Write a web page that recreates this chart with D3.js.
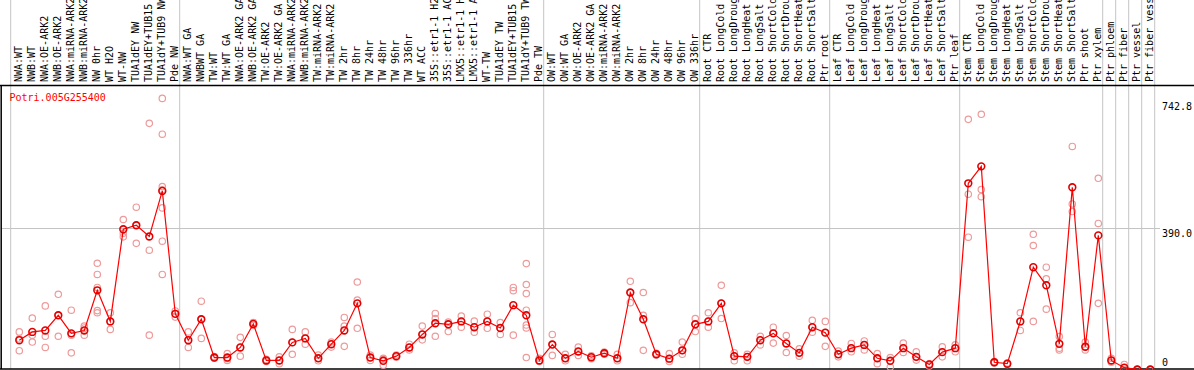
<!DOCTYPE html>
<html>
<head>
<meta charset="utf-8">
<script src="https://cdn.jsdelivr.net/npm/d3@7"></script>
<style>
  html, body { margin: 0; padding: 0; background: #fff; }
  svg { display: block; font-family: "DejaVu Sans Mono", monospace; }
</style>
</head>
<body>
<svg id="chart"></svg>
<script>
// sample labels, left to right
const samples = [
  'NWA:WT', 'NWB:WT', 'NWA:OE-ARK2', 'NWB:OE-ARK2', 'NWA:miRNA-ARK2', 'NWB:miRNA-ARK2',
  'NW 0hr', 'WT H2O', 'WT-NW', 'TUA1dEY NW', 'TUA1dEY+TUB15 NW', 'TUA1dY+TUB9 NW', 'Pde NW',
  'NWA:WT GA', 'NWBWT GA', 'TW:WT', 'TW:WT GA', 'NWA:OE-ARK2 GA', 'NWB:OE-ARK2 GA',
  'TW:OE-ARK2', 'TW:OE-ARK2 GA', 'NWA:miRNA-ARK2', 'NWB:miRNA-ARK2', 'TW:miRNA-ARK2', 'TW:miRNA-ARK2',
  'TW 2hr', 'TW 8hr', 'TW 24hr', 'TW 48hr', 'TW 96hr', 'TW 336hr', 'WT ACC',
  '35S::etr1-1 H2O', '35S::etr1-1 ACC', 'LMX5::etr1-1 H2O', 'LMX5::etr1-1 ACC',
  'WT-TW', 'TUA1dEY TW', 'TUA1dEY+TUB15 TW', 'TUA1dY+TUB9 TW', 'Pde TW',
  'OW:WT', 'OW:WT GA', 'OW:OE-ARK2', 'OW:OE-ARK2 GA', 'OW:miRNA-ARK2', 'OW:miRNA-ARK2',
  'OW 2hr', 'OW 8hr', 'OW 24hr', 'OW 48hr', 'OW 96hr', 'OW 336hr',
  'Root CTR', 'Root LongCold', 'Root LongDrought', 'Root LongHeat', 'Root LongSalt',
  'Root ShortCold', 'Root ShortDrought', 'Root ShortHeat', 'Root ShortSalt', 'Ptr root',
  'Leaf CTR', 'Leaf LongCold', 'Leaf LongDrought', 'Leaf LongHeat', 'Leaf LongSalt',
  'Leaf ShortCold', 'Leaf ShortDrought', 'Leaf ShortHeat', 'Leaf ShortSalt', 'Ptr leaf',
  'Stem CTR', 'Stem LongCold', 'Stem LongDrought', 'Stem LongHeat', 'Stem LongSalt',
  'Stem ShortCold', 'Stem ShortDrought', 'Stem ShortHeat', 'Stem ShortSalt', 'Ptr shoot',
  'Ptr xylem', 'Ptr phloem', 'Ptr fiber', 'Ptr vessel', 'Ptr fiber vessel'
];

// mean expression per sample
const means = [
  81, 104, 108, 150, 100, 108, 219, 133, 388, 399, 368, 494, 154,
  81, 139, 33, 33, 61, 126, 25, 25, 75, 86, 31, 70, 108, 183, 33, 24, 37, 61, 97,
  128, 125, 133, 117, 133, 115, 178, 150, 25,
  69, 31, 50, 34, 45, 31, 213, 139, 42, 30, 53, 125,
  133, 183, 37, 35, 81, 100, 72, 46, 117, 102,
  42, 59, 68, 31, 24, 59, 35, 14, 48, 59,
  515, 562, 20, 16, 133, 283, 233, 71, 504, 63, 371,
  25, 5, 0, 0
];

// individual replicates per sample
const replicates = [
  [104, 52, 85], [142, 76, 95], [176, 92, 61], [208, 92, 150], [164, 95, 46], [120, 95, 115],
  [294, 263, 227, 163, 157], [157, 111, 133], [415, 377, 367], [449, 349, 399], [681, 330, 95],
  [750, 651, 506, 497, 447, 355, 263], [162, 145],
  [104, 61, 81], [189, 86, 139], [33, 31, 36], [44, 25, 30], [89, 37, 61], [130, 122, 126],
  [28, 22, 25], [35, 16, 25], [111, 42, 75], [104, 70, 86], [40, 31, 24], [62, 70, 76],
  [144, 120, 64], [242, 192, 114], [25, 33, 40], [12, 31, 28], [37, 40, 34], [70, 61, 54],
  [120, 82, 97], [155, 141, 92], [131, 105, 125], [148, 117, 133], [134, 103, 117],
  [153, 114, 133], [130, 97, 115], [227, 218, 95], [293, 235, 210, 164, 123, 115, 33], [31, 22, 25],
  [97, 39, 69], [42, 24, 31], [62, 39, 50], [34, 30, 38], [45, 42, 48], [42, 24, 31],
  [244, 185, 213], [213, 150, 53], [42, 40, 45], [44, 22, 30], [76, 42, 53], [141, 105, 125],
  [157, 117, 133], [233, 141, 183], [46, 24, 37], [42, 24, 35], [92, 68, 81], [117, 73, 100],
  [94, 47, 72], [57, 37, 46], [136, 103, 117], [133, 64, 102],
  [51, 35, 42], [72, 49, 59], [79, 54, 68], [44, 16, 31], [33, 7, 24], [73, 47, 59],
  [49, 26, 35], [14, 10, 16], [63, 35, 48], [68, 49, 59],
  [692, 485, 366], [706, 498, 478], [20, 18, 22], [16, 14, 18], [157, 108, 133], [374, 343, 133],
  [283, 251, 167], [91, 59, 54], [617, 458, 437], [76, 54, 63], [529, 404, 183],
  [31, 25, 20], [14, 5, 0], [0, 0, 0], [0, 0, 0]
];

// last sample index of each group (separator drawn after it)
const groupEnds = [12, 40, 52, 62, 72, 83, 84, 85, 86, 87];
const yTicks = [0, 390.0, 742.8];
const geneName = 'Potri.005G255400';

const W = 1194, H = 370;
const headerBottom = 85.5, plotBottom = 369;

const svg = d3.select('#chart').attr('width', W).attr('height', H);

const x = d3.scaleBand()
            .domain(d3.range(samples.length))
            .range([10.7, 10.7 + 13 * samples.length]);
const px = i => x(i) + 8.6;

const y = d3.scaleLinear()
            .domain([0, 742.8])
            .range([369.5, 101]);

// gridline at 390
svg.append('line')
   .attr('x1', 1).attr('x2', 1160)
   .attr('y1', y(390)).attr('y2', y(390))
   .attr('stroke', '#c4c4c4').attr('stroke-width', 1);

// group separators
const seps = [x(0)].concat(groupEnds.map(i => x(i) + x.bandwidth()));
svg.selectAll('.sep')
   .data(seps)
   .enter().append('line')
   .attr('class', 'sep')
   .attr('x1', d => d).attr('x2', d => d)
   .attr('y1', 0).attr('y2', plotBottom)
   .attr('stroke', '#c4c4c4').attr('stroke-width', 1);

// frame lines
svg.append('line')
   .attr('x1', 0).attr('x2', W)
   .attr('y1', headerBottom).attr('y2', headerBottom)
   .attr('stroke', '#000').attr('stroke-width', 1.5);
svg.append('line')
   .attr('x1', 0).attr('x2', W)
   .attr('y1', plotBottom).attr('y2', plotBottom)
   .attr('stroke', '#000').attr('stroke-width', 1.5);
svg.append('line')
   .attr('x1', 1.2).attr('x2', 1.2)
   .attr('y1', headerBottom).attr('y2', plotBottom)
   .attr('stroke', '#000').attr('stroke-width', 1.5);

// rotated sample labels
svg.selectAll('.lbl')
   .data(samples)
   .enter().append('text')
   .attr('class', 'lbl')
   .attr('transform', (d, i) => `translate(${px(i) + 3},82) rotate(-90)`)
   .style('font-size', '10px')
   .style('fill', '#000')
   .text(d => d);

// right value axis
const axis = svg.append('g')
   .attr('transform', 'translate(1162,0)')
   .call(d3.axisRight(y).tickValues(yTicks).tickSize(0)
           .tickFormat(d => d === 0 ? '0' : d3.format('.1f')(d)));
axis.select('.domain').remove();
axis.selectAll('text')
    .attr('x', 0)
    .attr('dy', d => d === 0 ? '-0.4em' : '0.8em')
    .style('text-anchor', 'start')
    .style('font-family', '"DejaVu Sans Mono", monospace')
    .style('font-size', '10px')
    .style('fill', '#000');

// gene name
svg.append('text')
   .attr('x', 9.5).attr('y', 101)
   .style('font-size', '10px')
   .style('fill', '#ff0000')
   .text(geneName);

// replicate points
const repPoints = replicates.flatMap((vals, i) => vals.map(v => ({ i, v })));
svg.selectAll('.rep')
   .data(repPoints)
   .enter().append('circle')
   .attr('class', 'rep')
   .attr('cx', d => px(d.i))
   .attr('cy', d => y(d.v))
   .attr('r', 3.2)
   .attr('fill', 'none')
   .attr('stroke', '#ee9a9a')
   .attr('stroke-width', 1.2);

// mean line
const line = d3.line()
               .x((d, i) => px(i))
               .y(d => y(d));
svg.append('path')
   .datum(means)
   .attr('fill', 'none')
   .attr('stroke', '#ff0000')
   .attr('stroke-width', 1.2)
   .attr('d', line);

// mean points
svg.selectAll('.mean')
   .data(means)
   .enter().append('circle')
   .attr('class', 'mean')
   .attr('cx', (d, i) => px(i))
   .attr('cy', d => y(d))
   .attr('r', 3.4)
   .attr('fill', 'none')
   .attr('stroke', '#e00000')
   .attr('stroke-width', 1.6);
</script>
</body>
</html>
